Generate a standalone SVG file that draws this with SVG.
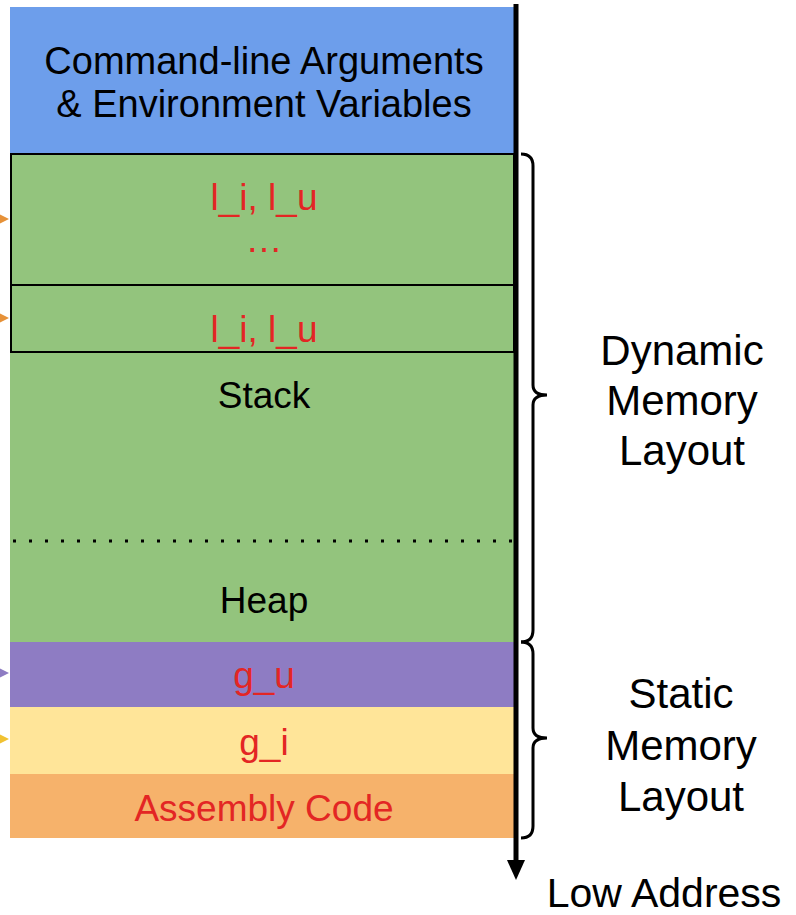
<svg xmlns="http://www.w3.org/2000/svg" width="796" height="915" viewBox="0 0 796 915">
<style>
.t{font-family:"Liberation Sans",Arial,sans-serif;text-anchor:middle}
.in{font-size:37px}
.big{font-size:38px}
.lab{font-size:42px;fill:#000}
.red{fill:#e32624}
.blk{fill:#000}
.brace{fill:none;stroke:#000;stroke-width:3}
</style>
<rect width="796" height="915" fill="#fff"/>
<g id="args">
<rect x="10" y="7" width="504" height="147" fill="#6d9eeb"/>
<text class="t big blk" x="264" y="74">Command-line Arguments</text>
<text class="t big blk" x="264" y="117">&amp; Environment Variables</text>
</g>
<g id="stack">
<rect x="10" y="154" width="504" height="488" fill="#93c47d"/>
<text class="t in blk" x="264" y="408">Stack</text>
</g>
<g id="frame1">
<rect x="11" y="154" width="503" height="131" fill="none" stroke="#000" stroke-width="2"/>
<text class="t in red" x="264" y="210">l_i, l_u</text>
<text class="t in red" x="264" y="252">…</text>
</g>
<g id="frame2">
<rect x="11" y="285" width="503" height="67" fill="none" stroke="#000" stroke-width="2"/>
<text class="t in red" x="264" y="342">l_i, l_u</text>
</g>
<g id="heap">
<line x1="13" y1="541" x2="514" y2="541" stroke="#000" stroke-width="3" stroke-dasharray="3 13"/>
<text class="t in blk" x="264" y="613">Heap</text>
</g>
<g id="bss">
<rect x="10" y="642" width="504" height="65" fill="#8e7cc3"/>
<text class="t in red" x="264" y="688">g_u</text>
</g>
<g id="data">
<rect x="10" y="707" width="504" height="67" fill="#ffe599"/>
<text class="t in red" x="264" y="755">g_i</text>
</g>
<g id="text">
<rect x="10" y="774" width="504" height="64" fill="#f6b26b"/>
<text class="t in red" x="264" y="821">Assembly Code</text>
</g>
<g id="connectors">
<polygon points="-3,213 9,219 -3,225" fill="#e69138"/>
<polygon points="-3,312 9,318 -3,324" fill="#e69138"/>
<polygon points="-3,667 9,673 -3,679" fill="#8e7cc3"/>
<polygon points="-3,733 9,739 -3,745" fill="#f1c232"/>
<line x1="516" y1="4" x2="516" y2="864" stroke="#000" stroke-width="5"/>
<polygon points="507,860 525,860 516,880" fill="#000"/>
<path class="brace" d="M521,154 Q533,154 533,166 L533,385 Q533,395 547,395 Q533,395 533,405 L533,630 Q533,642 521,642"/>
<path class="brace" d="M521,642 Q533,642 533,654 L533,728 Q533,738 547,738 Q533,738 533,748 L533,826 Q533,838 521,838"/>
</g>
<g id="labels">
<text class="t lab" x="682" y="365">Dynamic</text>
<text class="t lab" x="682" y="415">Memory</text>
<text class="t lab" x="682" y="465">Layout</text>
<text class="t lab" x="681" y="708">Static</text>
<text class="t lab" x="681" y="760">Memory</text>
<text class="t lab" x="681" y="811">Layout</text>
<text class="t lab" x="664" y="907" style="font-size:41px">Low Address</text>
</g>
</svg>
